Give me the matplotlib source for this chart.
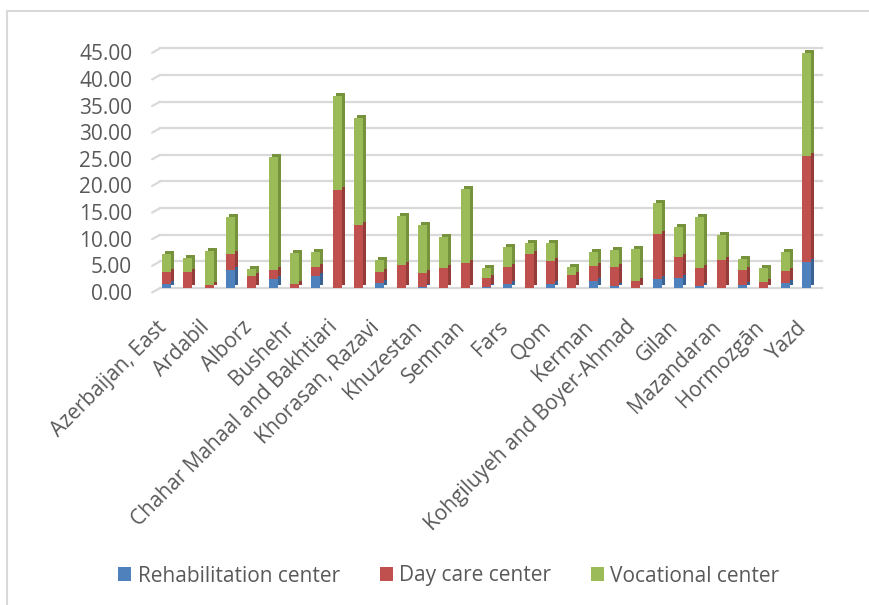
import matplotlib
matplotlib.use("Agg")
import matplotlib.pyplot as plt
import matplotlib.transforms as mtransforms
from matplotlib.patches import Rectangle, Patch
import numpy as np

provinces = [
    "Azerbaijan, East", "Azerbaijan, West", "Ardabil", "Isfahan", "Alborz",
    "Ilam", "Bushehr", "Tehran", "Chahar Mahaal and Bakhtiari", "Khorasan, South",
    "Khorasan, Razavi", "Khorasan, North", "Khuzestan", "Zanjan", "Semnan",
    "Sistan and Baluchestan", "Fars", "Qazvin", "Qom", "Kurdistan",
    "Kerman", "Kermanshah", "Kohgiluyeh and Boyer-Ahmad", "Golestan", "Gilan",
    "Lorestan", "Mazandaran", "Markazi", "Hormozgān", "Hamadan", "Yazd",
]
rehabilitation = [0.7, 0.0, 0.0, 3.3, 0.0, 1.75, 0.0, 2.25, 0.0, 0.0,
                  1.0, 0.0, 0.15, 0.0, 0.0, 0.2, 0.7, 0.0, 0.7, 0.0,
                  1.25, 0.4, 0.0, 1.6, 1.95, 0.4, 0.0, 0.5, 0.0, 0.9, 4.8]
day_care = [2.3, 3.0, 0.6, 3.0, 2.3, 1.7, 0.75, 1.65, 18.4, 11.8,
            2.0, 4.4, 2.75, 3.8, 4.6, 1.7, 3.2, 6.3, 4.3, 2.5,
            2.95, 3.5, 1.3, 8.6, 3.85, 3.4, 5.3, 2.9, 1.1, 2.3, 20.0]
vocational = [3.3, 2.6, 6.4, 7.0, 1.3, 21.05, 5.85, 2.8, 17.6, 20.2,
              2.2, 9.1, 8.9, 5.8, 13.9, 1.9, 3.8, 2.2, 3.5, 1.4,
              2.6, 3.2, 6.1, 5.7, 5.7, 9.5, 4.6, 2.1, 2.7, 3.6, 19.4]
series_names = ["Rehabilitation center", "Day care center", "Vocational center"]
y_ticks = [0, 5, 10, 15, 20, 25, 30, 35, 40, 45]

front_colors = ["#4F81BD", "#C0504D", "#9BBB59"]
side_colors = ["#3A6393", "#943C3A", "#76923C"]
text_color = "#595959"
grid_color = "#D9D9D9"

plt.rcParams["font.family"] = ["Open Sans", "DejaVu Sans"]

W, H = 870, 605
fig = plt.figure(figsize=(W / 100, H / 100), dpi=100)

# chart frame
fig.add_artist(Rectangle((7 / W, -0.05), 1.2, 1 - 11 / H + 0.05,
                         transform=fig.transFigure, fill=False,
                         edgecolor=grid_color, linewidth=1.5))

left, right = 155.8 / W, 822 / W
bottom, top = 1 - 288 / H, 1 - 48.3 / H
ax = fig.add_axes([left, bottom, right - left, top - bottom])
ax.set_xlim(-0.5, 30.72)
ax.set_ylim(0, 45)
for s in ax.spines.values():
    s.set_visible(False)

# gridlines with slanted front part
for yv in y_ticks:
    ax.plot([0.0065, 1], [yv, yv], transform=ax.get_yaxis_transform(),
            color=grid_color, lw=1.6, clip_on=False, zorder=0)
    ax.annotate("", xy=(0.0065, yv), xycoords=ax.get_yaxis_transform(),
                xytext=(-8, -4.5), textcoords="offset pixels",
                arrowprops=dict(arrowstyle="-", color=grid_color, lw=1.6,
                                shrinkA=0, shrinkB=0), zorder=0)

x = np.arange(len(provinces))
data = [np.array(rehabilitation), np.array(day_care), np.array(vocational)]
bw = 0.42
offset = mtransforms.ScaledTranslation(3 / 100, 3 / 100, fig.dpi_scale_trans)

# 3D side/top (shifted copy), then front faces
base = np.zeros(len(x))
for vals, sc in zip(data, side_colors):
    ax.bar(x, vals, bw, bottom=base, color=sc, linewidth=0,
           transform=ax.transData + offset, zorder=2)
    base = base + vals
base = np.zeros(len(x))
for vals, fc in zip(data, front_colors):
    ax.bar(x, vals, bw, bottom=base, color=fc, linewidth=0, zorder=3)
    base = base + vals

ax.set_yticks(y_ticks)
ax.set_yticklabels([f"{v:.2f}" for v in y_ticks], fontsize=15, color=text_color)
ax.tick_params(axis="y", length=0, pad=17)
for lbl in ax.get_yticklabels():
    lbl.set_transform(lbl.get_transform() +
                      mtransforms.ScaledTranslation(0, -4 / 100, fig.dpi_scale_trans))

ax.set_xticks(x[::2])
ax.set_xticklabels(provinces[::2], rotation=45, ha="right", va="center",
                   rotation_mode="anchor", fontsize=15, color=text_color)
ax.tick_params(axis="x", length=0, pad=26)
for lbl in ax.get_xticklabels():
    lbl.set_transform(lbl.get_transform() +
                      mtransforms.ScaledTranslation(-3 / 100, 0, fig.dpi_scale_trans))

handles = [Patch(facecolor=c, edgecolor="none") for c in front_colors]
fig.legend(handles, series_names, loc="center",
           bbox_to_anchor=(449 / W, 1 - 576 / H), ncol=3, frameon=False,
           fontsize=15, labelcolor=text_color, handlelength=0.62,
           handleheight=0.62, handletextpad=0.32, columnspacing=1.9)

fig.savefig("out.png", dpi=100)
